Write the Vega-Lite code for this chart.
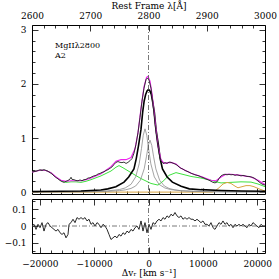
{
 "$schema": "https://vega.github.io/schema/vega-lite/v6.json",
 "padding": {"left": 3, "top": 0, "right": 14, "bottom": 0},
 "background": "white",
 "spacing": 5,
 "bounds": "flush",
 "config": {
  "view": {"stroke": "black", "strokeWidth": 1},
  "axis": {"grid": false, "domain": false, "labelFont": "DejaVu Serif", "labelFontSize": 9, "labelColor": "black", "tickColor": "black", "tickWidth": 0.8, "titleFont": "DejaVu Serif", "titleFontSize": 9, "titleFontWeight": "normal", "titleColor": "black", "labelFlush": false, "labelOverlap": false}
 },
 "datasets": {
  "obs": [
   {"lam":2600.0,"f":0.37},{"lam":2603.4,"f":0.38},{"lam":2606.9,"f":0.385},{"lam":2610.3,"f":0.40},{"lam":2613.7,"f":0.41},{"lam":2617.2,"f":0.40},{"lam":2620.6,"f":0.415},{"lam":2624.0,"f":0.40},{"lam":2627.5,"f":0.385},{"lam":2630.9,"f":0.36},{"lam":2634.3,"f":0.335},{"lam":2637.8,"f":0.30},{"lam":2641.2,"f":0.27},{"lam":2644.6,"f":0.245},{"lam":2648.1,"f":0.215},{"lam":2651.5,"f":0.195},{"lam":2654.9,"f":0.18},{"lam":2658.4,"f":0.20},{"lam":2661.8,"f":0.215},{"lam":2665.2,"f":0.24},{"lam":2667.0,"f":0.275},{"lam":2668.7,"f":0.235},{"lam":2672.1,"f":0.23},{"lam":2675.5,"f":0.215},{"lam":2679.0,"f":0.21},{"lam":2682.4,"f":0.225},{"lam":2685.8,"f":0.21},{"lam":2689.3,"f":0.23},{"lam":2692.7,"f":0.235},{"lam":2696.1,"f":0.26},{"lam":2699.6,"f":0.265},{"lam":2703.0,"f":0.285},{"lam":2706.4,"f":0.30},{"lam":2709.9,"f":0.31},{"lam":2713.3,"f":0.335},{"lam":2716.7,"f":0.345},{"lam":2720.2,"f":0.365},{"lam":2723.6,"f":0.375},{"lam":2727.0,"f":0.40},{"lam":2730.5,"f":0.415},{"lam":2733.9,"f":0.44},{"lam":2737.3,"f":0.465},{"lam":2740.8,"f":0.51},{"lam":2744.2,"f":0.55},{"lam":2747.6,"f":0.565},{"lam":2751.1,"f":0.55},{"lam":2754.5,"f":0.545},{"lam":2757.9,"f":0.555},{"lam":2761.4,"f":0.53},{"lam":2764.8,"f":0.55},{"lam":2768.2,"f":0.58},{"lam":2771.7,"f":0.62},{"lam":2775.1,"f":0.72},{"lam":2778.5,"f":0.88},{"lam":2782.0,"f":1.10},{"lam":2785.4,"f":1.38},{"lam":2788.8,"f":1.68},{"lam":2792.3,"f":1.92},{"lam":2795.7,"f":2.08},{"lam":2798.3,"f":2.11},{"lam":2800.9,"f":2.07},{"lam":2804.3,"f":1.92},{"lam":2807.7,"f":1.62},{"lam":2811.2,"f":1.25},{"lam":2814.6,"f":0.95},{"lam":2818.0,"f":0.72},{"lam":2821.5,"f":0.58},{"lam":2824.9,"f":0.53},{"lam":2828.3,"f":0.545},{"lam":2831.8,"f":0.53},{"lam":2835.2,"f":0.555},{"lam":2838.6,"f":0.55},{"lam":2842.1,"f":0.535},{"lam":2845.5,"f":0.52},{"lam":2848.9,"f":0.50},{"lam":2852.4,"f":0.465},{"lam":2855.8,"f":0.44},{"lam":2859.2,"f":0.425},{"lam":2862.7,"f":0.40},{"lam":2866.1,"f":0.385},{"lam":2869.5,"f":0.37},{"lam":2873.0,"f":0.35},{"lam":2876.4,"f":0.335},{"lam":2879.8,"f":0.32},{"lam":2883.3,"f":0.31},{"lam":2886.7,"f":0.30},{"lam":2890.1,"f":0.28},{"lam":2893.6,"f":0.27},{"lam":2897.0,"f":0.25},{"lam":2900.4,"f":0.235},{"lam":2903.9,"f":0.22},{"lam":2907.3,"f":0.20},{"lam":2910.7,"f":0.18},{"lam":2914.2,"f":0.17},{"lam":2917.6,"f":0.19},{"lam":2921.0,"f":0.25},{"lam":2924.5,"f":0.30},{"lam":2927.9,"f":0.32},{"lam":2931.3,"f":0.33},{"lam":2934.8,"f":0.32},{"lam":2938.2,"f":0.33},{"lam":2941.6,"f":0.32},{"lam":2945.1,"f":0.325},{"lam":2948.5,"f":0.31},{"lam":2951.9,"f":0.32},{"lam":2955.4,"f":0.31},{"lam":2958.8,"f":0.30},{"lam":2962.2,"f":0.31},{"lam":2965.7,"f":0.30},{"lam":2969.1,"f":0.29},{"lam":2972.5,"f":0.29},{"lam":2976.0,"f":0.28},{"lam":2979.4,"f":0.27},{"lam":2982.8,"f":0.25},{"lam":2986.3,"f":0.22},{"lam":2989.7,"f":0.19},{"lam":2993.1,"f":0.16},{"lam":2996.6,"f":0.14},{"lam":3000.0,"f":0.13}
  ],
  "model": [
   {"lam":2600,"f":0.37},{"lam":2615.5,"f":0.41},{"lam":2624,"f":0.40},{"lam":2632.6,"f":0.36},{"lam":2641.2,"f":0.28},{"lam":2649.8,"f":0.22},{"lam":2658.4,"f":0.20},{"lam":2667,"f":0.21},{"lam":2675.5,"f":0.21},{"lam":2684.1,"f":0.21},{"lam":2692.7,"f":0.23},{"lam":2701.3,"f":0.26},{"lam":2718.5,"f":0.34},{"lam":2735.6,"f":0.47},{"lam":2744.2,"f":0.57},{"lam":2752.8,"f":0.60},{"lam":2761.4,"f":0.60},{"lam":2770,"f":0.64},{"lam":2776.8,"f":0.80},{"lam":2782,"f":1.10},{"lam":2787.1,"f":1.55},{"lam":2792.3,"f":1.95},{"lam":2796.6,"f":2.12},{"lam":2799.2,"f":2.14},{"lam":2802.6,"f":2.05},{"lam":2806,"f":1.82},{"lam":2809.4,"f":1.50},{"lam":2812.9,"f":1.15},{"lam":2816.3,"f":0.85},{"lam":2821.5,"f":0.60},{"lam":2826.6,"f":0.53},{"lam":2831.8,"f":0.54},{"lam":2838.6,"f":0.55},{"lam":2847.2,"f":0.52},{"lam":2855.8,"f":0.44},{"lam":2873,"f":0.35},{"lam":2890.1,"f":0.29},{"lam":2907.3,"f":0.22},{"lam":2915.9,"f":0.21},{"lam":2924.5,"f":0.28},{"lam":2933,"f":0.33},{"lam":2941.6,"f":0.33},{"lam":2958.8,"f":0.31},{"lam":2976,"f":0.28},{"lam":2988,"f":0.22},{"lam":3000,"f":0.14}
  ],
  "broad": [
   {"lam":2600,"f":0.01},{"lam":2650,"f":0.015},{"lam":2684,"f":0.02},{"lam":2718,"f":0.04},{"lam":2730,"f":0.06},{"lam":2744,"f":0.10},{"lam":2758,"f":0.185},{"lam":2766,"f":0.28},{"lam":2775,"f":0.43},{"lam":2779,"f":0.62},{"lam":2783,"f":0.87},{"lam":2787,"f":1.15},{"lam":2790,"f":1.48},{"lam":2792.5,"f":1.68},{"lam":2795,"f":1.80},{"lam":2797.5,"f":1.87},{"lam":2800,"f":1.90},{"lam":2802.5,"f":1.87},{"lam":2805,"f":1.80},{"lam":2807,"f":1.68},{"lam":2810,"f":1.48},{"lam":2813,"f":1.15},{"lam":2817,"f":0.87},{"lam":2820,"f":0.62},{"lam":2824,"f":0.43},{"lam":2832,"f":0.28},{"lam":2841,"f":0.185},{"lam":2856,"f":0.11},{"lam":2870,"f":0.06},{"lam":2890,"f":0.045},{"lam":2925,"f":0.03},{"lam":2960,"f":0.02},{"lam":3000,"f":0.015}
  ],
  "n1": [
   {"lam":2600,"f":0.0025},{"lam":2650,"f":0.0046},{"lam":2700,"f":0.0106},{"lam":2730,"f":0.0227},{"lam":2750,"f":0.047},{"lam":2760,"f":0.077},{"lam":2770,"f":0.144},{"lam":2778,"f":0.281},{"lam":2784,"f":0.523},{"lam":2788,"f":0.81},{"lam":2791,"f":1.053},{"lam":2794,"f":1.17},{"lam":2797,"f":1.053},{"lam":2800,"f":0.81},{"lam":2804,"f":0.523},{"lam":2810,"f":0.281},{"lam":2818,"f":0.144},{"lam":2828,"f":0.077},{"lam":2838,"f":0.047},{"lam":2858,"f":0.023},{"lam":2888,"f":0.011},{"lam":2938,"f":0.005},{"lam":3000,"f":0.0025}
  ],
  "n2": [
   {"lam":2600,"f":0.0019},{"lam":2650,"f":0.0033},{"lam":2700,"f":0.0073},{"lam":2730,"f":0.0145},{"lam":2750,"f":0.027},{"lam":2760,"f":0.041},{"lam":2770,"f":0.068},{"lam":2778,"f":0.113},{"lam":2786,"f":0.218},{"lam":2792.6,"f":0.43},{"lam":2796.6,"f":0.665},{"lam":2799.6,"f":0.864},{"lam":2802.6,"f":0.96},{"lam":2805.6,"f":0.864},{"lam":2808.6,"f":0.665},{"lam":2812.6,"f":0.43},{"lam":2819.2,"f":0.218},{"lam":2827.2,"f":0.113},{"lam":2835.2,"f":0.068},{"lam":2845.2,"f":0.041},{"lam":2855.2,"f":0.027},{"lam":2875.2,"f":0.0145},{"lam":2905.2,"f":0.0073},{"lam":2955,"f":0.0033},{"lam":3000,"f":0.002}
  ],
  "fe": [
   {"lam":2600,"f":0.37},{"lam":2606.9,"f":0.39},{"lam":2615.5,"f":0.41},{"lam":2624,"f":0.40},{"lam":2632.6,"f":0.36},{"lam":2641.2,"f":0.28},{"lam":2649.8,"f":0.21},{"lam":2658.4,"f":0.18},{"lam":2667,"f":0.19},{"lam":2675.5,"f":0.19},{"lam":2684.1,"f":0.18},{"lam":2692.7,"f":0.20},{"lam":2701.3,"f":0.23},{"lam":2718.5,"f":0.30},{"lam":2735.6,"f":0.39},{"lam":2744.2,"f":0.46},{"lam":2749.4,"f":0.49},{"lam":2756.2,"f":0.45},{"lam":2770,"f":0.36},{"lam":2787.1,"f":0.25},{"lam":2804.3,"f":0.16},{"lam":2816.3,"f":0.13},{"lam":2824.9,"f":0.20},{"lam":2835.2,"f":0.31},{"lam":2847.2,"f":0.36},{"lam":2873,"f":0.29},{"lam":2890.1,"f":0.26},{"lam":2907.3,"f":0.22},{"lam":2915.9,"f":0.19},{"lam":2924.5,"f":0.17},{"lam":2941.6,"f":0.18},{"lam":2958.8,"f":0.19},{"lam":2976,"f":0.185},{"lam":2988,"f":0.15},{"lam":3000,"f":0.10}
  ],
  "fe2": [
   {"lam":2600,"f":0.0},{"lam":2910,"f":0.0},{"lam":2914.2,"f":0.02},{"lam":2921,"f":0.08},{"lam":2927.9,"f":0.15},{"lam":2934.8,"f":0.18},{"lam":2941.6,"f":0.16},{"lam":2948.5,"f":0.11},{"lam":2953.6,"f":0.08},{"lam":2960.5,"f":0.10},{"lam":2967.4,"f":0.12},{"lam":2974.2,"f":0.12},{"lam":2981.1,"f":0.10},{"lam":2989.7,"f":0.06},{"lam":3000,"f":0.02}
  ],
  "resid": [
   {"v":-21420,"r":0.00},{"v":-21056,"r":0.01},{"v":-20689,"r":-0.02},{"v":-20321,"r":0.01},{"v":-19953,"r":-0.01},{"v":-19585,"r":0.02},{"v":-19218,"r":-0.03},{"v":-18850,"r":0.01},{"v":-18482,"r":0.02},{"v":-18114,"r":0.00},{"v":-17746,"r":-0.01},{"v":-17379,"r":-0.02},{"v":-17011,"r":-0.03},{"v":-16643,"r":-0.02},{"v":-16275,"r":-0.04},{"v":-15908,"r":-0.05},{"v":-15540,"r":-0.04},{"v":-15172,"r":-0.07},{"v":-14804,"r":-0.05},{"v":-14620,"r":0.01},{"v":-14252,"r":0.02},{"v":-13884,"r":0.04},{"v":-13517,"r":0.02},{"v":-13149,"r":0.05},{"v":-12781,"r":0.04},{"v":-12413,"r":0.05},{"v":-12046,"r":0.04},{"v":-11678,"r":0.05},{"v":-11310,"r":0.03},{"v":-10942,"r":0.04},{"v":-10575,"r":0.01},{"v":-10207,"r":0.02},{"v":-9839,"r":0.00},{"v":-9471,"r":0.02},{"v":-9103,"r":0.01},{"v":-8735,"r":-0.01},{"v":-8367,"r":0.01},{"v":-8000,"r":0.00},{"v":-7632,"r":-0.02},{"v":-7264,"r":-0.05},{"v":-6896,"r":-0.08},{"v":-6529,"r":-0.07},{"v":-6161,"r":-0.06},{"v":-5793,"r":-0.07},{"v":-5425,"r":-0.05},{"v":-5057,"r":-0.06},{"v":-4689,"r":-0.04},{"v":-4322,"r":-0.05},{"v":-3954,"r":-0.03},{"v":-3586,"r":-0.04},{"v":-3218,"r":-0.02},{"v":-2850,"r":-0.03},{"v":-2483,"r":-0.01},{"v":-2115,"r":0.00},{"v":-1747,"r":-0.02},{"v":-1379,"r":0.03},{"v":-1011,"r":-0.03},{"v":-644,"r":0.02},{"v":-276,"r":-0.04},{"v":92,"r":0.01},{"v":460,"r":-0.02},{"v":828,"r":0.02},{"v":1195,"r":0.01},{"v":1563,"r":0.03},{"v":1931,"r":0.04},{"v":2299,"r":0.03},{"v":2666,"r":0.05},{"v":3034,"r":0.04},{"v":3402,"r":0.06},{"v":3770,"r":0.05},{"v":4138,"r":0.07},{"v":4506,"r":0.06},{"v":4873,"r":0.08},{"v":5241,"r":0.06},{"v":5609,"r":0.05},{"v":5977,"r":0.06},{"v":6345,"r":0.04},{"v":6712,"r":0.05},{"v":7080,"r":0.04},{"v":7448,"r":0.05},{"v":7816,"r":0.04},{"v":8184,"r":0.04},{"v":8551,"r":0.03},{"v":8919,"r":0.04},{"v":9287,"r":0.03},{"v":9655,"r":0.02},{"v":10022,"r":0.03},{"v":10390,"r":0.01},{"v":10758,"r":0.01},{"v":11126,"r":0.00},{"v":11494,"r":0.02},{"v":11861,"r":-0.01},{"v":12229,"r":-0.02},{"v":12597,"r":0.00},{"v":12965,"r":0.02},{"v":13333,"r":0.01},{"v":13700,"r":0.03},{"v":14068,"r":0.01},{"v":14436,"r":0.02},{"v":14804,"r":0.00},{"v":15172,"r":0.01},{"v":15540,"r":-0.01},{"v":15908,"r":0.01},{"v":16275,"r":0.00},{"v":16643,"r":0.01},{"v":17011,"r":0.00},{"v":17379,"r":0.01},{"v":17746,"r":0.00},{"v":18114,"r":-0.01},{"v":18482,"r":0.01},{"v":18850,"r":0.00},{"v":19218,"r":0.02},{"v":19585,"r":0.01},{"v":19953,"r":0.00},{"v":20321,"r":-0.01},{"v":20689,"r":0.01},{"v":21056,"r":0.00},{"v":21424,"r":0.00}
  ]
 },
 "vconcat": [
  {
   "width": 233, "height": 169,
   "resolve": {"axis": {"x": "independent", "y": "independent"}},
   "layer": [
    {"data": {"name": "fe"}, "mark": {"type": "line", "color": "#3ee23e", "strokeWidth": 1},
     "encoding": {
      "x": {"field": "lam", "type": "quantitative", "scale": {"domain": [2600, 3000], "nice": false, "zero": false}, "axis": {"orient": "top", "values": [2600, 2700, 2800, 2900, 3000], "format": "d", "tickSize": -6, "labelPadding": 11, "title": "Rest Frame λ[Å]", "titlePadding": 1}},
      "y": {"field": "f", "type": "quantitative", "scale": {"domain": [-0.035, 3.09], "nice": false, "zero": false}, "axis": {"orient": "left", "values": [0, 1, 2, 3], "format": "d", "tickSize": -6, "labelPadding": 12, "title": null}}
     }},
    {"data": {"name": "fe2"}, "mark": {"type": "line", "color": "#d9a441", "strokeWidth": 1},
     "encoding": {
      "x": {"field": "lam", "type": "quantitative", "scale": {"domain": [2600, 3000], "nice": false, "zero": false}, "axis": {"orient": "top", "values": [2620, 2640, 2660, 2680, 2720, 2740, 2760, 2780, 2820, 2840, 2860, 2880, 2920, 2940, 2960, 2980], "labels": false, "tickSize": -3, "title": null}},
      "y": {"field": "f", "type": "quantitative", "scale": {"domain": [-0.035, 3.09], "nice": false, "zero": false}, "axis": {"orient": "left", "values": [0.2, 0.4, 0.6, 0.8, 1.2, 1.4, 1.6, 1.8, 2.2, 2.4, 2.6, 2.8], "labels": false, "tickSize": -3, "title": null}}
     }},
    {"data": {"name": "n1"}, "mark": {"type": "line", "color": "#8c8c8c", "strokeWidth": 0.8},
     "encoding": {
      "x": {"field": "lam", "type": "quantitative", "scale": {"domain": [2600, 3000], "nice": false, "zero": false}, "axis": {"orient": "bottom", "values": [2613.21, 2706.61, 2800, 2893.39, 2986.79], "labels": false, "tickSize": -6, "title": null}},
      "y": {"field": "f", "type": "quantitative", "scale": {"domain": [-0.035, 3.09], "nice": false, "zero": false}, "axis": {"orient": "right", "values": [0, 1, 2, 3], "labels": false, "tickSize": -6, "title": null}}
     }},
    {"data": {"name": "n2"}, "mark": {"type": "line", "color": "#8c8c8c", "strokeWidth": 0.8},
     "encoding": {
      "x": {"field": "lam", "type": "quantitative", "scale": {"domain": [2600, 3000], "nice": false, "zero": false}, "axis": {"orient": "bottom", "values": [2631.89, 2650.57, 2669.25, 2687.93, 2725.28, 2743.96, 2762.64, 2781.32, 2818.68, 2837.36, 2856.04, 2874.72, 2912.07, 2930.75, 2949.43, 2968.11], "labels": false, "tickSize": -3, "title": null}},
      "y": {"field": "f", "type": "quantitative", "scale": {"domain": [-0.035, 3.09], "nice": false, "zero": false}, "axis": {"orient": "right", "values": [0.2, 0.4, 0.6, 0.8, 1.2, 1.4, 1.6, 1.8, 2.2, 2.4, 2.6, 2.8], "labels": false, "tickSize": -3, "title": null}}
     }},
    {"data": {"name": "broad"}, "mark": {"type": "line", "color": "black", "strokeWidth": 1.6},
     "encoding": {
      "x": {"field": "lam", "type": "quantitative", "scale": {"domain": [2600, 3000], "nice": false, "zero": false}, "axis": null},
      "y": {"field": "f", "type": "quantitative", "scale": {"domain": [-0.035, 3.09], "nice": false, "zero": false}, "axis": null}
     }},
    {"data": {"name": "model"}, "mark": {"type": "line", "color": "#ee22ee", "strokeWidth": 1.1},
     "encoding": {
      "x": {"field": "lam", "type": "quantitative", "scale": {"domain": [2600, 3000], "nice": false, "zero": false}, "axis": null},
      "y": {"field": "f", "type": "quantitative", "scale": {"domain": [-0.035, 3.09], "nice": false, "zero": false}, "axis": null}
     }},
    {"data": {"name": "obs"}, "mark": {"type": "line", "color": "#222222", "strokeWidth": 0.9},
     "encoding": {
      "x": {"field": "lam", "type": "quantitative", "scale": {"domain": [2600, 3000], "nice": false, "zero": false}, "axis": null},
      "y": {"field": "f", "type": "quantitative", "scale": {"domain": [-0.035, 3.09], "nice": false, "zero": false}, "axis": null}
     }},
    {"data": {"values": [{}]}, "mark": {"type": "rule", "color": "#555555", "strokeWidth": 0.8, "strokeDash": [5, 2, 1, 2]},
     "encoding": {"x": {"datum": 2800, "type": "quantitative", "scale": {"domain": [2600, 3000], "nice": false, "zero": false}, "axis": null}}},
    {"data": {"values": [{}]}, "mark": {"type": "text", "font": "DejaVu Serif", "fontSize": 8, "align": "left", "baseline": "middle", "color": "black", "text": "MgIIλ2800"},
     "encoding": {"x": {"datum": 2639.5, "type": "quantitative", "axis": null}, "y": {"datum": 2.70, "type": "quantitative", "axis": null}}},
    {"data": {"values": [{}]}, "mark": {"type": "text", "font": "DejaVu Serif", "fontSize": 8, "align": "left", "baseline": "middle", "color": "black", "text": "A2"},
     "encoding": {"x": {"datum": 2639.5, "type": "quantitative", "axis": null}, "y": {"datum": 2.52, "type": "quantitative", "axis": null}}}
   ]
  },
  {
   "width": 233, "height": 54,
   "resolve": {"axis": {"x": "independent", "y": "independent"}},
   "layer": [
    {"data": {"name": "resid"}, "mark": {"type": "line", "color": "#111111", "strokeWidth": 0.9},
     "encoding": {
      "x": {"field": "v", "type": "quantitative", "scale": {"domain": [-21428, 21428], "nice": false, "zero": false}, "axis": {"orient": "bottom", "values": [-20000, -10000, 0, 10000, 20000], "format": "d", "tickSize": -6, "labelPadding": 12, "title": "Δvᵣ [km s⁻¹]", "titlePadding": 0}},
      "y": {"field": "r", "type": "quantitative", "scale": {"domain": [-0.16, 0.16], "nice": false, "zero": false}, "axis": {"orient": "left", "values": [-0.1, 0, 0.1], "format": "~g", "tickSize": -6, "labelPadding": 12, "title": null}}
     }},
    {"data": {"values": [{}]}, "mark": {"type": "rule", "color": "#555555", "strokeWidth": 0.8, "strokeDash": [5, 2, 1, 2]},
     "encoding": {
      "x": {"datum": -21428, "type": "quantitative", "scale": {"domain": [-21428, 21428], "nice": false, "zero": false}, "axis": {"orient": "bottom", "values": [-18000, -16000, -14000, -12000, -8000, -6000, -4000, -2000, 2000, 4000, 6000, 8000, 12000, 14000, 16000, 18000], "labels": false, "tickSize": -3, "title": null}},
      "x2": {"datum": 21428},
      "y": {"datum": 0, "type": "quantitative", "scale": {"domain": [-0.16, 0.16], "nice": false, "zero": false}, "axis": {"orient": "left", "values": [-0.15, -0.05, 0.05, 0.15], "labels": false, "tickSize": -3, "title": null}}
     }},
    {"data": {"values": [{}]}, "mark": {"type": "rule", "color": "#555555", "strokeWidth": 0.8, "strokeDash": [5, 2, 1, 2]},
     "encoding": {
      "x": {"datum": 0, "type": "quantitative", "scale": {"domain": [-21428, 21428], "nice": false, "zero": false}, "axis": {"orient": "top", "values": [-20000, -10000, 0, 10000, 20000], "labels": false, "tickSize": -6, "title": null}},
      "y": {"datum": -0.16, "type": "quantitative", "scale": {"domain": [-0.16, 0.16], "nice": false, "zero": false}, "axis": {"orient": "right", "values": [-0.1, 0, 0.1], "labels": false, "tickSize": -6, "title": null}},
      "y2": {"datum": 0.16}
     }},
    {"data": {"values": [{}]}, "mark": {"type": "text", "text": ""},
     "encoding": {
      "x": {"datum": 0, "type": "quantitative", "scale": {"domain": [-21428, 21428], "nice": false, "zero": false}, "axis": {"orient": "top", "values": [-18000, -16000, -14000, -12000, -8000, -6000, -4000, -2000, 2000, 4000, 6000, 8000, 12000, 14000, 16000, 18000], "labels": false, "tickSize": -3, "title": null}},
      "y": {"datum": 0, "type": "quantitative", "scale": {"domain": [-0.16, 0.16], "nice": false, "zero": false}, "axis": {"orient": "right", "values": [-0.15, -0.05, 0.05, 0.15], "labels": false, "tickSize": -3, "title": null}}
     }}
   ]
  }
 ]
}
